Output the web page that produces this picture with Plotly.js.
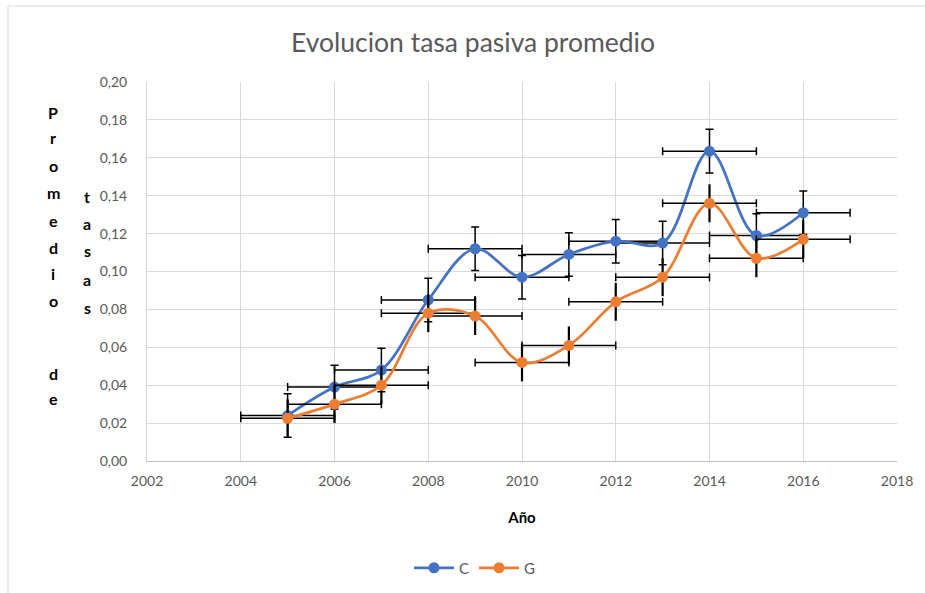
<!DOCTYPE html>
<html>
<head>
<meta charset="utf-8">
<script src="https://cdn.plot.ly/plotly-3.0.1.min.js"></script>
<style>html,body{margin:0;padding:0;background:#fff;}#chart{width:925px;height:593px;}</style>
</head>
<body>
<div id="chart"></div>
<script>
const years = [2005, 2006, 2007, 2008, 2009, 2010, 2011, 2012, 2013, 2014, 2015, 2016];
const seriesC = [0.024, 0.039, 0.048, 0.085, 0.112, 0.097, 0.109, 0.116, 0.115, 0.1635, 0.119, 0.131];
const seriesG = [0.0225, 0.030, 0.040, 0.078, 0.0765, 0.052, 0.061, 0.084, 0.097, 0.136, 0.107, 0.117];
const errC = 0.0115;
const errG = 0.0100;
const errYear = 1;
const xTicks = [2002, 2004, 2006, 2008, 2010, 2012, 2014, 2016, 2018];
const titleText = 'Evolucion tasa pasiva promedio';
const xTitle = 'Año';
const yTitleCol1 = ['P','r','o','m','e','d','i','o','','d','e'];
const yTitleCol2 = ['t','a','s','a','s'];

const FONT = 'Lato, "Open Sans", sans-serif';
const W = 925, H = 593, L = 147, R = 28, T = 82, B = 132;
const pw = W - L - R, ph = H - T - B;
const px = x => (x - L) / pw;
const py = y => (H - B - y) / ph;

const traces = [
  {
    x: years, y: seriesC, name: 'C', type: 'scatter', mode: 'lines+markers',
    line: {color: '#4472C4', width: 2.75, shape: 'spline', smoothing: 1},
    marker: {color: '#4472C4', size: 11},
    error_y: {type: 'constant', value: errC, color: '#000', thickness: 1.5, width: 4},
    error_x: {type: 'constant', value: errYear, color: '#000', thickness: 1.5, width: 4}
  },
  {
    x: years, y: seriesG, name: 'G', type: 'scatter', mode: 'lines+markers',
    line: {color: '#ED7D31', width: 2.75, shape: 'spline', smoothing: 1},
    marker: {color: '#ED7D31', size: 11},
    error_y: {type: 'constant', value: errG, color: '#000', thickness: 2.2, width: 0},
    error_x: {type: 'constant', value: errYear, color: '#000', thickness: 1.5, width: 4}
  }
];

const annotations = [];
const col1Y = [112, 137, 165, 192, 220, 247, 273, 300, 336, 373, 398];
yTitleCol1.forEach((ch, i) => {
  if (ch) annotations.push({xref: 'paper', yref: 'paper', x: px(53), y: py(col1Y[i]), text: ch, showarrow: false,
    xanchor: 'center', yanchor: 'middle', font: {family: FONT, size: 16, color: '#000', weight: 'bold'}});
});
const col2Y = [196, 223, 250, 279, 307];
yTitleCol2.forEach((ch, i) => {
  annotations.push({xref: 'paper', yref: 'paper', x: px(87), y: py(col2Y[i]), text: ch, showarrow: false,
    xanchor: 'center', yanchor: 'middle', font: {family: FONT, size: 16, color: '#000', weight: 'bold'}});
});

const layout = {
  width: W, height: H,
  margin: {l: L, r: R, t: T, b: B, pad: 0, autoexpand: false},
  paper_bgcolor: '#fff', plot_bgcolor: '#fff',
  separators: ',.',
  font: {family: FONT, size: 14, color: '#595959'},
  title: {text: titleText, xref: 'container', x: 473 / W, xanchor: 'center', yref: 'container', y: 1 - 43 / H, yanchor: 'middle',
    font: {family: FONT, size: 26.5, color: '#595959'}},
  xaxis: {
    range: [2002, 2018], tickvals: xTicks, ticktext: xTicks.map(String),
    showgrid: true, gridcolor: '#d9d9d9', gridwidth: 1,
    showline: true, linecolor: '#bfbfbf', linewidth: 1, zeroline: false,
    ticks: '', ticklabelstandoff: 7, automargin: false,
    tickfont: {family: FONT, size: 14, color: '#595959'},
    title: {text: xTitle, standoff: 24, font: {family: FONT, size: 15, color: '#000', weight: 'bold'}}
  },
  yaxis: {
    range: [0, 0.2], dtick: 0.02, tickformat: '.2f',
    showgrid: true, gridcolor: '#d9d9d9', gridwidth: 1,
    showline: true, linecolor: '#d9d9d9', linewidth: 1, zeroline: false,
    ticks: '', ticklabelstandoff: 16, automargin: false,
    tickfont: {family: FONT, size: 14, color: '#595959'}
  },
  legend: {orientation: 'h', x: px(475), xanchor: 'center', y: py(568), yanchor: 'middle',
    font: {family: FONT, size: 15, color: '#595959'}, itemwidth: 40, tracegroupgap: 0},
  showlegend: true,
  annotations: annotations,
  shapes: [
    {type: 'line', xref: 'paper', yref: 'paper', x0: px(8), x1: px(8), y0: py(6), y1: py(600), line: {color: '#d9d9d9', width: 1}},
    {type: 'line', xref: 'paper', yref: 'paper', x0: px(8), x1: px(930), y0: py(6), y1: py(6), line: {color: '#d9d9d9', width: 1}}
  ]
};

Plotly.newPlot('chart', traces, layout, {displayModeBar: false, staticPlot: true});
</script>
</body>
</html>
